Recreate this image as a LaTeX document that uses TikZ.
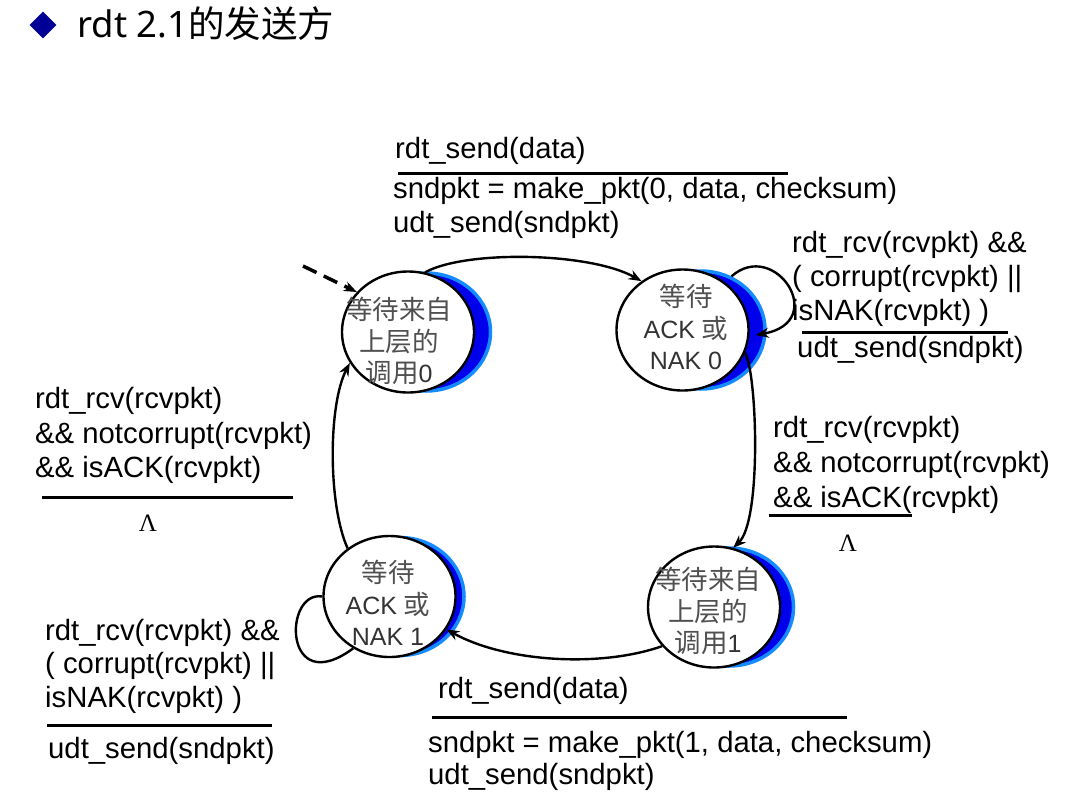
\documentclass[tikz,border=0pt]{standalone}
\usepackage{fontspec}
\setmainfont{Liberation Sans}
\newfontfamily\cjk{Noto Sans CJK SC}
\newfontfamily\titlelat{Noto Sans}
\newfontfamily\serifgr{Liberation Serif}
\usetikzlibrary{arrows.meta,shapes.geometric,calc}
\definecolor{db}{RGB}{0,0,235}
\definecolor{lb}{RGB}{20,140,255}
\definecolor{navy}{RGB}{0,0,150}
\definecolor{zhgray}{RGB}{80,80,80}
\newcommand\zh[1]{{\cjk\fontsize{26.5}{31.5}\selectfont\color{zhgray}#1}}
\begin{document}
\begin{tikzpicture}[x=1pt,y=-1pt,
  lab/.style={anchor=base west, inner sep=0, font=\fontsize{29.3}{34}\selectfont},
  stt/.style={ellipse, draw, line width=2.4pt, fill=white, minimum width=132pt, minimum height=121pt, inner sep=0},
  shd/.style={ellipse, draw=lb, fill=db, line width=3.5pt, minimum width=129pt, minimum height=118pt, inner sep=0},
  stxt/.style={align=center, inner sep=0, text=black!80, font=\fontsize{25}{31.5}\selectfont},
  edge/.style={line width=2.4pt, -{Stealth[length=13pt,width=10pt]}},
  loopline/.style={line width=2.4pt},
  bar/.style={line width=3pt},
  lam/.style={anchor=base, inner sep=0, font=\serifgr\fontsize{25}{25}\selectfont}]
\fill[white] (0,0) rectangle (1075,804);
\useasboundingbox (0,0) rectangle (1075,804);
% title
\node[diamond, fill=navy, minimum width=27pt, minimum height=27pt, inner sep=0] (dia) at (43,25) {};
\node[anchor=west, inner sep=0, font=\fontsize{36.5}{36.5}\selectfont] (title) at (77,24) {\titlelat rdt 2.1\cjk 的发送方};
% shadows
\node[shd] (h0) at (426,332) {};
\node[shd] (h1) at (700.5,330) {};
\node[shd] (h2) at (729,607) {};
\node[shd] (h3) at (399.5,596.5) {};
% states
\node[stt] (s0) at (408,332) {};
\node[stt] (s1) at (682.5,330) {};
\node[stt] (s2) at (714,607) {};
\node[stt] (s3) at (389.5,596.5) {};
\node[stxt] (s0t) at (399,341) {\zh{等待来自}\\\zh{上层的}\\\zh{调用}0};
\node[stxt] (s1t) at (686,327) {\zh{等待}\\ACK \zh{或}\\NAK 0};
\node[stxt] (s2t) at (708,611) {\zh{等待来自}\\\zh{上层的}\\\zh{调用}1};
\node[stxt] (s3t) at (388,603) {\zh{等待}\\ACK \zh{或}\\NAK 1};
% connectors
\coordinate (init) at (303,266);
\draw[edge, line width=3.5pt, dash pattern=on 15pt off 8pt] (init) -- (s0.142);
\draw[edge] (s0.74) .. controls (465,250) and (590,252) .. (s1.130);
\draw[edge] (h1.60) .. controls (775,238) and (830,322) .. ($(s1.east)+(6,5)$);
\draw[edge] (s1.340) .. controls (757,372) and (762,520) .. (s2.72);
\draw[edge] (s2.217) .. controls (600,668) and (505,662) .. (s3.330);
\draw[edge] (s3.131) .. controls (328,505) and (328,405) .. (s0.208);
\draw[loopline] (s3.180) .. controls (283,590) and (283,700) .. (s3.235);
% top label
\node[lab] (ta) at (395,158) {rdt\_send(data)};
\draw[bar] (398,173) -- (788,173);
\node[lab] (tb) at (393,198) {sndpkt = make\_pkt(0, data, checksum)};
\node[lab] (tc) at (393,232) {udt\_send(sndpkt)};
% top-right loop label
\node[lab] (ra) at (792,252) {rdt\_rcv(rcvpkt) \&\&};
\node[lab] (rb) at (792,286) {( corrupt(rcvpkt) ||};
\node[lab] (rc) at (792,320) {isNAK(rcvpkt) )};
\draw[bar] (802,332) -- (1008,332);
\node[lab] (rd) at (797,357) {udt\_send(sndpkt)};
% right label
\node[lab] (qa) at (773,437) {rdt\_rcv(rcvpkt)};
\node[lab] (qb) at (773,472) {\&\& notcorrupt(rcvpkt)};
\node[lab] (qc) at (773,507) {\&\& isACK(rcvpkt)};
\draw[bar] (769,515) -- (912,515);
\node[lam] (ql) at (848,551) {Λ};
% left label
\node[lab] (la) at (35,408) {rdt\_rcv(rcvpkt)};
\node[lab] (lb) at (35,443) {\&\& notcorrupt(rcvpkt)};
\node[lab] (lc) at (35,477) {\&\& isACK(rcvpkt)};
\draw[bar] (42,497) -- (293,497);
\node[lam] (ll) at (148,531) {Λ};
% bottom-left loop label
\node[lab] (ba) at (45,640) {rdt\_rcv(rcvpkt) \&\&};
\node[lab] (bb) at (45,673) {( corrupt(rcvpkt) ||};
\node[lab] (bc) at (45,707) {isNAK(rcvpkt) )};
\draw[bar] (47,725) -- (272,725);
\node[lab] (bd) at (48,758) {udt\_send(sndpkt)};
% bottom label
\node[lab] (da) at (438,698) {rdt\_send(data)};
\draw[bar] (432,717) -- (847,717);
\node[lab] (db) at (428,752) {sndpkt = make\_pkt(1, data, checksum)};
\node[lab] (dc) at (428,784) {udt\_send(sndpkt)};
\end{tikzpicture}
\end{document}
